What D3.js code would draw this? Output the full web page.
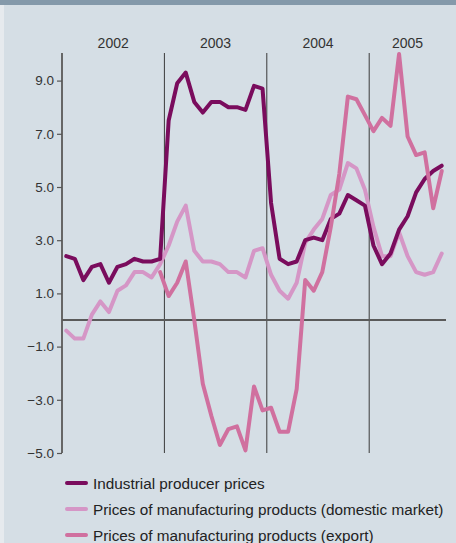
<!DOCTYPE html>
<html><head><meta charset="utf-8">
<script src="https://cdn.jsdelivr.net/npm/d3@7"></script>
<style>
html,body{margin:0;padding:0;background:#d5dee5;}
svg{display:block;font-family:"Liberation Sans",Arial,sans-serif;}
</style></head>
<body><svg id="c" width="456" height="543"></svg>
<script>
const years = ["2002","2003","2004","2005"];
const monthsPerYear = [12,12,12,9];
const industrial = [2.4,2.3,1.5,2.0,2.1,1.4,2.0,2.1,2.3,2.2,2.2,2.3,
  7.5,8.9,9.3,8.2,7.8,8.2,8.2,8.0,8.0,7.9,8.8,8.7,
  4.4,2.3,2.1,2.2,3.0,3.1,3.0,3.8,4.0,4.7,4.5,4.3,
  2.8,2.1,2.5,3.4,3.9,4.8,5.3,5.6,5.8];
const domestic = [-0.4,-0.7,-0.7,0.2,0.7,0.3,1.1,1.3,1.8,1.8,1.6,2.1,
  2.8,3.7,4.3,2.6,2.2,2.2,2.1,1.8,1.8,1.6,2.6,2.7,
  1.7,1.1,0.8,1.4,2.9,3.4,3.8,4.7,4.9,5.9,5.7,4.9,
  3.5,2.4,2.4,3.3,2.4,1.8,1.7,1.8,2.5];
const exportP = [null,null,null,null,null,null,null,null,null,null,null,1.8,
  0.9,1.4,2.2,0.0,-2.4,-3.6,-4.7,-4.1,-4.0,-4.9,-2.5,-3.4,
  -3.3,-4.2,-4.2,-2.6,1.5,1.1,1.8,3.5,5.5,8.4,8.3,7.7,
  7.1,7.6,7.3,10.0,6.9,6.2,6.3,4.2,5.6];
const yTicks = [-5,-3,-1,1,3,5,7,9];
const seriesNames = ["Industrial producer prices",
  "Prices of manufacturing products (domestic market)",
  "Prices of manufacturing products (export)"];
const seriesColors = ["#7a0c5d","#d596c6","#d0709f"];

const months = [];
years.forEach((y,i)=>{for(let m=0;m<monthsPerYear[i];m++) months.push(y+"-"+(m+1));});

const svg = d3.select("#c");
// frame
svg.append("rect").attr("x",0).attr("y",0).attr("width",456).attr("height",543).attr("fill","#d5dee5");
svg.append("rect").attr("x",0).attr("y",0).attr("width",4).attr("height",543).attr("fill","#e6eaee");
svg.append("rect").attr("x",0).attr("y",0).attr("width",456).attr("height",5).attr("fill","#8499aa");

const x = d3.scaleBand().domain(months).range([62,446]);
const y = d3.scaleLinear().domain([-5,10]).range([453,54]);
const cx = m => x(m) + x.bandwidth()/2;

// year separators
const yearStarts = [];
let acc = 0;
years.forEach((yr,i)=>{yearStarts.push({yr, start: months[acc], end: months[acc+monthsPerYear[i]-1]}); acc += monthsPerYear[i];});
yearStarts.slice(1).forEach(d=>{
  svg.append("line").attr("x1",x(d.start)).attr("x2",x(d.start))
    .attr("y1",53).attr("y2",453).attr("stroke","#3a3a3a").attr("stroke-width",1);
});
yearStarts.forEach(d=>{
  const x0 = x(d.start), x1 = x(d.end)+x.bandwidth();
  svg.append("text").attr("x",(x0+x1)/2).attr("y",48).attr("text-anchor","middle")
    .attr("font-size",14).attr("fill","#333").text(d.yr);
});

// y axis
const yAxis = d3.axisLeft(y).tickValues(yTicks).tickSize(5).tickPadding(3).tickFormat(d3.format(".1f"));
const ga = svg.append("g").attr("transform","translate(62,0)").call(yAxis);
ga.select(".domain").attr("stroke","#666").attr("stroke-width",2).attr("d","M0,53V453");
ga.selectAll(".tick line").attr("stroke","#555").attr("stroke-width",1.2);
ga.selectAll(".tick text").attr("font-size",13.5).attr("fill","#333").attr("font-family","Liberation Sans, Arial, sans-serif");

// zero line
svg.append("line").attr("x1",62).attr("x2",446).attr("y1",y(0)).attr("y2",y(0))
  .attr("stroke","#5a5a5a").attr("stroke-width",2);

const line = d3.line().defined(d=>d.v!==null).x(d=>cx(d.m)).y(d=>y(d.v));
const data = [industrial, domestic, exportP];
[1,0,2].forEach(i=>{
  svg.append("path").datum(months.map((m,j)=>({m, v:data[i][j]})))
    .attr("d",line).attr("fill","none").attr("stroke",seriesColors[i])
    .attr("stroke-width",4).attr("stroke-linejoin","round").attr("stroke-linecap","round");
});

// legend
seriesNames.forEach((n,i)=>{
  const ly = 483 + i*26;
  svg.append("line").attr("x1",67).attr("x2",86).attr("y1",ly).attr("y2",ly)
    .attr("stroke",seriesColors[i]).attr("stroke-width",4).attr("stroke-linecap","round");
  svg.append("text").attr("x",93).attr("y",ly+5.5).attr("font-size",15.3).attr("fill","#222").text(n);
});
</script></body></html>
